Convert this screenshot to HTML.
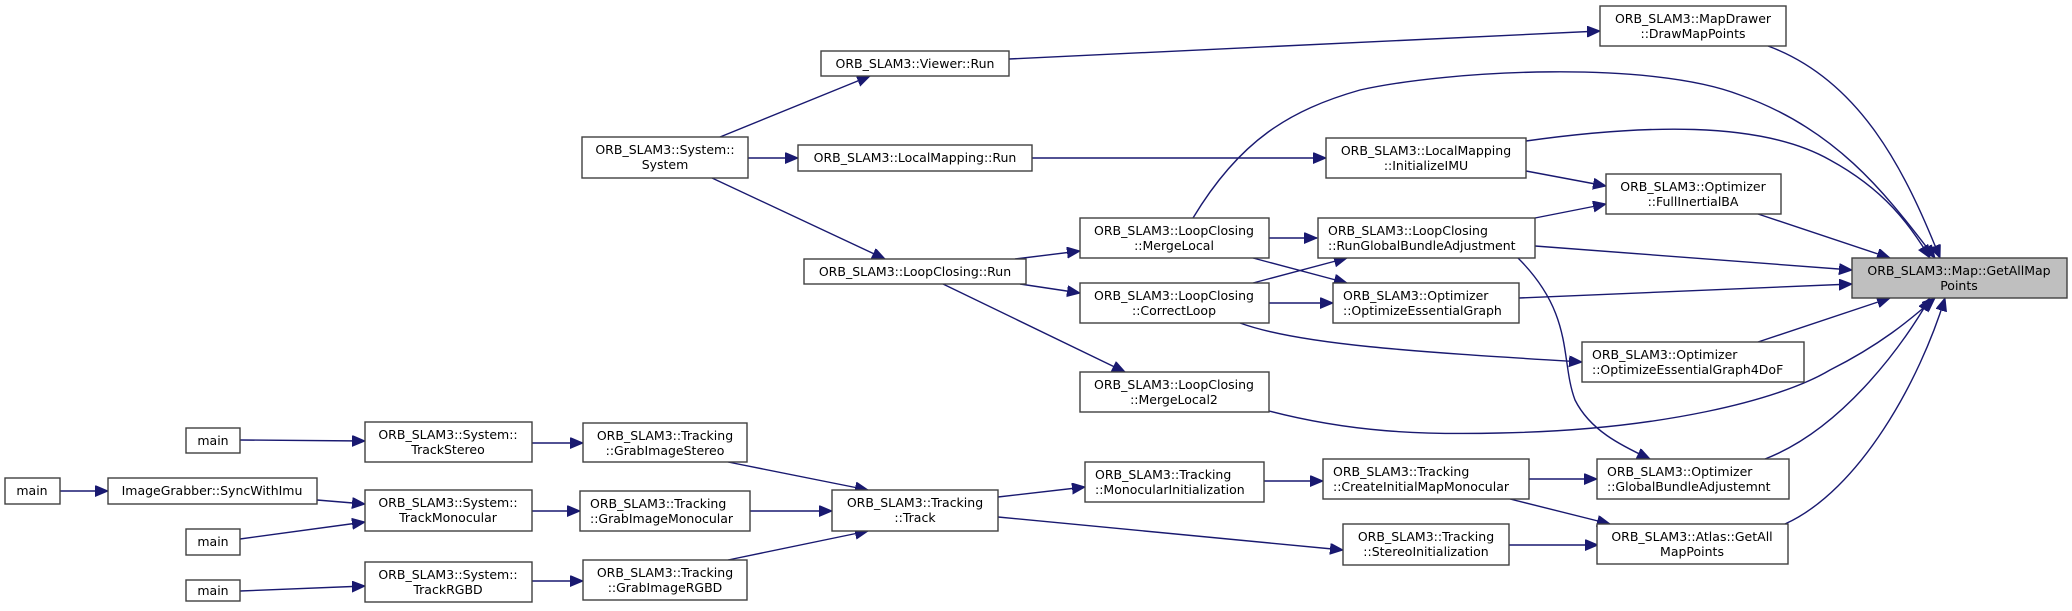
<!DOCTYPE html>
<html><head><meta charset="utf-8"><style>
html,body{margin:0;padding:0;background:#fff;}
svg{display:block;}
text{font-family:"DejaVu Sans","Liberation Sans",sans-serif;font-size:12.5px;fill:#000;}
.b{fill:#fff;stroke:#404040;stroke-width:1.4;}
.e{fill:none;stroke:#191970;stroke-width:1.4;}
</style></head><body>
<svg width="2072" height="611" viewBox="0 0 2072 611" xmlns="http://www.w3.org/2000/svg">
<defs>
<marker id="a" markerUnits="userSpaceOnUse" markerWidth="14" markerHeight="12" refX="13" refY="5.5" orient="auto">
<path d="M0,0 L13,5.5 L0,11 Z" fill="#191970" stroke="#191970"/>
</marker>
</defs>

<!-- edges -->
<g class="e" marker-end="url(#a)">
<path d="M1009,59 L1600,31"/>
<path d="M720,137 L870,76"/>
<path d="M748,158 L798,158"/>
<path d="M712,178 L885,259"/>
<path d="M1032,158 L1326,158"/>
<path d="M1015,259 L1080,251"/>
<path d="M1020,284 L1080,293"/>
<path d="M943,284 L1125,372"/>
<path d="M1269,238 L1317,238"/>
<path d="M1253,258 L1347,283"/>
<path d="M1253,283 L1347,258"/>
<path d="M1269,303 L1333,303"/>
<path d="M1240,323 C1300,345 1420,352 1582,362"/>
<path d="M1526,171 L1606,186"/>
<path d="M1535,218 L1606,204"/>
<path d="M1518,258 C1575,315 1560,360 1575,400 C1590,430 1620,445 1650,459"/>
<path d="M1758,214 L1890,258"/>
<path d="M1535,246 L1852,270"/>
<path d="M1519,298 L1852,284"/>
<path d="M1758,342 L1890,298"/>
<path d="M1768,46 C1860,80 1905,170 1940,258"/>
<path d="M1193,218 C1240,140 1290,110 1360,90 C1450,70 1650,60 1740,95 C1840,130 1890,200 1935,258"/>
<path d="M1526,141 C1640,125 1760,120 1830,160 C1885,190 1910,225 1930,258"/>
<path d="M1269,411 C1350,432 1420,435 1500,433 C1660,430 1780,400 1830,370 C1880,345 1910,320 1935,298"/>
<path d="M1765,459 C1840,430 1900,350 1930,298"/>
<path d="M1785,524 C1860,490 1920,380 1945,298"/>
<path d="M1529,479 L1597,479"/>
<path d="M1510,499 L1610,524"/>
<path d="M1509,545 L1598,545"/>
<path d="M1264,481 L1085,481" marker-end="" />
<path d="M1264,481 L1323,481"/>
<path d="M998,497 L1085,487"/>
<path d="M998,517 L1343,550"/>
<path d="M728,462 L868,490"/>
<path d="M750,511 L832,511"/>
<path d="M728,560 L868,531"/>
<path d="M532,443 L583,443"/>
<path d="M532,511 L580,511"/>
<path d="M532,581 L583,581"/>
<path d="M240,440 L365,441"/>
<path d="M60,491 L108,491"/>
<path d="M317,500 L365,504"/>
<path d="M240,539 L365,522"/>
<path d="M240,591 L365,586"/>
</g>

<!-- nodes -->
<rect x="1852" y="258" width="215" height="40" fill="#bfbfbf" stroke="#404040" stroke-width="1.4"/>
<text x="1959" y="275" text-anchor="middle">ORB_SLAM3::Map::GetAllMap</text>
<text x="1959" y="290" text-anchor="middle">Points</text>

<rect class="b" x="1600" y="6" width="186" height="40"/>
<text x="1693" y="23" text-anchor="middle">ORB_SLAM3::MapDrawer</text>
<text x="1693" y="38" text-anchor="middle">::DrawMapPoints</text>

<rect class="b" x="821" y="51" width="188" height="25"/>
<text x="915" y="68" text-anchor="middle">ORB_SLAM3::Viewer::Run</text>

<rect class="b" x="582" y="137" width="166" height="41"/>
<text x="665" y="154" text-anchor="middle">ORB_SLAM3::System::</text>
<text x="665" y="169" text-anchor="middle">System</text>

<rect class="b" x="798" y="145" width="234" height="26"/>
<text x="915" y="162" text-anchor="middle">ORB_SLAM3::LocalMapping::Run</text>

<rect class="b" x="1326" y="138" width="200" height="40"/>
<text x="1426" y="155" text-anchor="middle">ORB_SLAM3::LocalMapping</text>
<text x="1426" y="170" text-anchor="middle">::InitializeIMU</text>

<rect class="b" x="1606" y="174" width="175" height="40"/>
<text x="1693" y="191" text-anchor="middle">ORB_SLAM3::Optimizer</text>
<text x="1693" y="206" text-anchor="middle">::FullInertialBA</text>

<rect class="b" x="1080" y="218" width="189" height="40"/>
<text x="1174" y="235" text-anchor="middle">ORB_SLAM3::LoopClosing</text>
<text x="1174" y="250" text-anchor="middle">::MergeLocal</text>

<rect class="b" x="1318" y="218" width="217" height="40"/>
<text x="1328" y="235">ORB_SLAM3::LoopClosing</text>
<text x="1328" y="250">::RunGlobalBundleAdjustment</text>

<rect class="b" x="804" y="259" width="222" height="25"/>
<text x="915" y="276" text-anchor="middle">ORB_SLAM3::LoopClosing::Run</text>

<rect class="b" x="1080" y="283" width="189" height="40"/>
<text x="1174" y="300" text-anchor="middle">ORB_SLAM3::LoopClosing</text>
<text x="1174" y="315" text-anchor="middle">::CorrectLoop</text>

<rect class="b" x="1333" y="283" width="186" height="40"/>
<text x="1343" y="300">ORB_SLAM3::Optimizer</text>
<text x="1343" y="315">::OptimizeEssentialGraph</text>

<rect class="b" x="1582" y="342" width="222" height="40"/>
<text x="1592" y="359">ORB_SLAM3::Optimizer</text>
<text x="1592" y="374">::OptimizeEssentialGraph4DoF</text>

<rect class="b" x="1080" y="372" width="189" height="40"/>
<text x="1174" y="389" text-anchor="middle">ORB_SLAM3::LoopClosing</text>
<text x="1174" y="404" text-anchor="middle">::MergeLocal2</text>

<rect class="b" x="186" y="428" width="54" height="25"/>
<text x="213" y="445" text-anchor="middle">main</text>

<rect class="b" x="365" y="422" width="167" height="40"/>
<text x="448" y="439" text-anchor="middle">ORB_SLAM3::System::</text>
<text x="448" y="454" text-anchor="middle">TrackStereo</text>

<rect class="b" x="583" y="423" width="164" height="39"/>
<text x="665" y="440" text-anchor="middle">ORB_SLAM3::Tracking</text>
<text x="665" y="455" text-anchor="middle">::GrabImageStereo</text>

<rect class="b" x="5" y="478" width="55" height="26"/>
<text x="32" y="495" text-anchor="middle">main</text>

<rect class="b" x="108" y="478" width="209" height="26"/>
<text x="212" y="495" text-anchor="middle">ImageGrabber::SyncWithImu</text>

<rect class="b" x="365" y="490" width="167" height="41"/>
<text x="448" y="507" text-anchor="middle">ORB_SLAM3::System::</text>
<text x="448" y="522" text-anchor="middle">TrackMonocular</text>

<rect class="b" x="580" y="491" width="170" height="40"/>
<text x="590" y="508">ORB_SLAM3::Tracking</text>
<text x="590" y="523">::GrabImageMonocular</text>

<rect class="b" x="832" y="490" width="166" height="41"/>
<text x="915" y="507" text-anchor="middle">ORB_SLAM3::Tracking</text>
<text x="915" y="522" text-anchor="middle">::Track</text>

<rect class="b" x="1085" y="462" width="179" height="40"/>
<text x="1095" y="479">ORB_SLAM3::Tracking</text>
<text x="1095" y="494">::MonocularInitialization</text>

<rect class="b" x="1323" y="459" width="206" height="40"/>
<text x="1333" y="476">ORB_SLAM3::Tracking</text>
<text x="1333" y="491">::CreateInitialMapMonocular</text>

<rect class="b" x="1597" y="459" width="192" height="40"/>
<text x="1607" y="476">ORB_SLAM3::Optimizer</text>
<text x="1607" y="491">::GlobalBundleAdjustemnt</text>

<rect class="b" x="186" y="529" width="54" height="26"/>
<text x="213" y="546" text-anchor="middle">main</text>

<rect class="b" x="1343" y="524" width="166" height="41"/>
<text x="1426" y="541" text-anchor="middle">ORB_SLAM3::Tracking</text>
<text x="1426" y="556" text-anchor="middle">::StereoInitialization</text>

<rect class="b" x="1597" y="524" width="191" height="40"/>
<text x="1692" y="541" text-anchor="middle">ORB_SLAM3::Atlas::GetAll</text>
<text x="1692" y="556" text-anchor="middle">MapPoints</text>

<rect class="b" x="365" y="562" width="167" height="40"/>
<text x="448" y="579" text-anchor="middle">ORB_SLAM3::System::</text>
<text x="448" y="594" text-anchor="middle">TrackRGBD</text>

<rect class="b" x="583" y="560" width="164" height="40"/>
<text x="665" y="577" text-anchor="middle">ORB_SLAM3::Tracking</text>
<text x="665" y="592" text-anchor="middle">::GrabImageRGBD</text>

<rect class="b" x="186" y="580" width="54" height="21"/>
<text x="213" y="595" text-anchor="middle">main</text>
</svg>
</body></html>
